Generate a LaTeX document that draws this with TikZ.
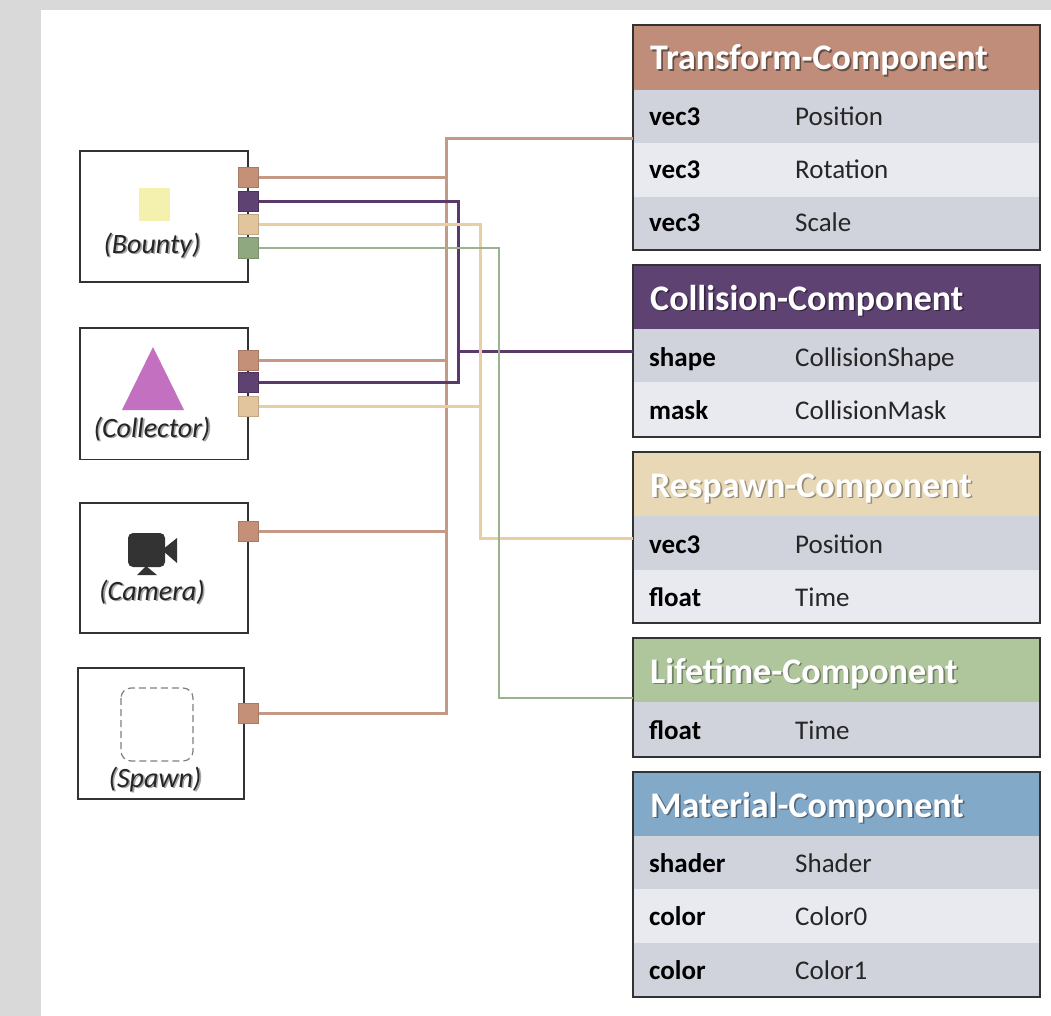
\documentclass[tikz,border=0pt]{standalone}
\usepackage{fontspec}
\setmainfont{Carlito}
\usetikzlibrary{calc}
\definecolor{pageGray}{HTML}{D9D9D9}
\definecolor{cT}{HTML}{BF8D7A}
\definecolor{cC}{HTML}{5E4272}
\definecolor{cR}{HTML}{E8D8B6}
\definecolor{cL}{HTML}{AFC69C}
\definecolor{cM}{HTML}{83A9C8}
\definecolor{rowA}{HTML}{D0D3DC}
\definecolor{rowB}{HTML}{E9EAEF}
\definecolor{lT}{HTML}{C49A87}
\definecolor{lC}{HTML}{5A3A6C}
\definecolor{lR}{HTML}{E8CFA3}
\definecolor{lL}{HTML}{9AB38E}
\definecolor{pT}{HTML}{C49078}
\definecolor{pR}{HTML}{E2C59C}
\definecolor{pL}{HTML}{8FA880}
\definecolor{edgeDark}{HTML}{333333}
\newcommand{\shadowed}[3]{\makebox[0pt][l]{\raisebox{-1.6pt}{\hspace{1.6pt}\textcolor{#1}{#3}}}\textcolor{#2}{#3}}
\newcommand{\rectnode}[6][]{\node[rectbase,#1,minimum width=#5pt-#3pt,minimum height=#6pt-#4pt] (#2) at (#3,#4) {};}
\tikzset{
  rectbase/.style={rectangle,anchor=north west,inner sep=0pt,outer sep=0pt},
  rowa/.style={fill=rowA},
  rowb/.style={fill=rowB},
  tableframe/.style={draw=edgeDark,line width=1.8pt},
  entity/.style={draw=edgeDark,fill=white,line width=1.5pt},
  hdrtext/.style={anchor=base west,inner sep=0pt,font=\fontsize{36}{36}\bfseries\selectfont},
  typetext/.style={anchor=base west,inner sep=0pt,font=\fontsize{27}{27}\bfseries\selectfont,text=black},
  valtext/.style={anchor=base west,inner sep=0pt,font=\fontsize{27}{27}\selectfont,text=black!85},
  entlabel/.style={anchor=base,inner sep=0pt,font=\fontsize{28}{28}\itshape\selectfont},
  port/.style={rectangle,anchor=center,inner sep=0pt,outer sep=0pt,minimum width=20pt,minimum height=20pt,line width=1pt},
  portT/.style={port,fill=pT,draw=pT!85!black},
  portC/.style={port,fill=cC,draw=lC!85!black},
  portR/.style={port,fill=pR,draw=pR!85!black},
  portL/.style={port,fill=pL,draw=pL!85!black},
  wireT/.style={draw=lT,line width=3pt},
  wireC/.style={draw=lC,line width=3pt},
  wireR/.style={draw=lR,line width=3pt},
  wireL/.style={draw=lL,line width=2.6pt},
}
\begin{document}
\begin{tikzpicture}[x=1pt,y=-1pt]
\useasboundingbox (0,0) rectangle (1051,1016);
\fill[pageGray] (0,0) rectangle (1051,1016);
\fill[white] (41,10) rectangle (1051,1016);

% entities
\rectnode[entity]{bounty}{80}{151}{248}{282}
\rectnode[entity]{collector}{80}{328}{248}{459.5}
\rectnode[entity]{camera}{80}{503}{248}{633}
\rectnode[entity]{spawn}{78}{668}{244}{799}

% icons
\rectnode[fill=yellow!30!white!95!black]{bountyicon}{139}{188}{170}{221}
\fill[fill={rgb,255:red,194;green,112;blue,191}] (153,347) -- (184,410) -- (122,410) -- cycle;
\fill[edgeDark,rounded corners=5pt] (128,533) rectangle (165,567);
\fill[edgeDark] (162,550) -- (177,538) -- (177,563) -- cycle;
\fill[edgeDark] (146,566) -- (157,575) -- (137,575) -- cycle;
\draw[gray,dashed,line width=1.2pt,rounded corners=10pt,dash pattern=on 7pt off 4pt] (121,688) rectangle (193,761);

\node[entlabel] (lbounty) at (152,253) {\shadowed{black!35}{black!85}{(Bounty)}};
\node[entlabel] (lcollector) at (152,437) {\shadowed{black!35}{black!85}{(Collector)}};
\node[entlabel] (lcamera) at (152,600) {\shadowed{black!35}{black!85}{(Camera)}};
\node[entlabel] (lspawn) at (155,787) {\shadowed{black!35}{black!85}{(Spawn)}};

% tables
\rectnode[rectbase,fill=cT]{hT}{633}{25}{1040}{90}
\rectnode[rowa]{rT1}{633}{90}{1040}{143}
\rectnode[rowb]{rT2}{633}{143}{1040}{197}
\rectnode[rowa]{rT3}{633}{197}{1040}{250}
\rectnode[tableframe]{tT}{633}{25}{1040}{250}

\rectnode[rectbase,fill=cC]{hC}{633}{265}{1040}{329}
\rectnode[rowa]{rC1}{633}{329}{1040}{382}
\rectnode[rowb]{rC2}{633}{382}{1040}{437}
\rectnode[tableframe]{tC}{633}{265}{1040}{437}

\rectnode[rectbase,fill=cR]{hR}{633}{452}{1040}{516}
\rectnode[rowa]{rR1}{633}{516}{1040}{570}
\rectnode[rowb]{rR2}{633}{570}{1040}{623}
\rectnode[tableframe]{tR}{633}{452}{1040}{623}

\rectnode[rectbase,fill=cL]{hL}{633}{638}{1040}{702}
\rectnode[rowa]{rL1}{633}{702}{1040}{757}
\rectnode[tableframe]{tL}{633}{638}{1040}{757}

\rectnode[rectbase,fill=cM]{hM}{633}{772}{1040}{836}
\rectnode[rowa]{rM1}{633}{836}{1040}{889}
\rectnode[rowb]{rM2}{633}{889}{1040}{943}
\rectnode[rowa]{rM3}{633}{943}{1040}{997}
\rectnode[tableframe]{tM}{633}{772}{1040}{997}

% table texts
\node[hdrtext] (hTt) at (650,70) {\shadowed{cT!55!black}{white}{Transform-Component}};
\node[typetext] (a1) at (649,126) {vec3}; \node[valtext] (b1) at (795,126) {Position};
\node[typetext] (a2) at (649,179) {vec3}; \node[valtext] (b2) at (795,179) {Rotation};
\node[typetext] (a3) at (649,232) {vec3}; \node[valtext] (b3) at (795,232) {Scale};

\node[hdrtext] (hCt) at (650,310) {\shadowed{cC!55!black}{white}{Collision-Component}};
\node[typetext] (a4) at (649,366) {shape}; \node[valtext] (b4) at (795,366) {CollisionShape};
\node[typetext] (a5) at (649,419) {mask}; \node[valtext] (b5) at (795,419) {CollisionMask};

\node[hdrtext] (hRt) at (650,497) {\shadowed{cR!65!black}{white}{Respawn-Component}};
\node[typetext] (a6) at (649,553) {vec3}; \node[valtext] (b6) at (795,553) {Position};
\node[typetext] (a7) at (649,606) {float}; \node[valtext] (b7) at (795,606) {Time};

\node[hdrtext] (hLt) at (650,683) {\shadowed{cL!65!black}{white}{Lifetime-Component}};
\node[typetext] (a8) at (649,739) {float}; \node[valtext] (b8) at (795,739) {Time};

\node[hdrtext] (hMt) at (650,817) {\shadowed{cM!60!black}{white}{Material-Component}};
\node[typetext] (a9) at (649,872) {shader}; \node[valtext] (b9) at (795,872) {Shader};
\node[typetext] (a10) at (649,925) {color}; \node[valtext] (b10) at (795,925) {Color0};
\node[typetext] (a11) at (649,979) {color}; \node[valtext] (b11) at (795,979) {Color1};

% ports
\node[portT] (bT) at (248.5,178) {};
\node[portC] (bC) at (248.5,201.5) {};
\node[portR] (bR) at (248.5,225) {};
\node[portL] (bL) at (248.5,248) {};
\node[portT] (cT) at (248.5,360.5) {};
\node[portC] (cC) at (248.5,382) {};
\node[portR] (cR) at (248.5,406) {};
\node[portT] (kT) at (248.5,531) {};
\node[portT] (sT) at (248.5,713) {};

% junctions and table ends
\coordinate (jT) at (446,139);
\coordinate (jC) at (458,351);
\coordinate (jR) at (480,538.5);
\coordinate (jL) at (499,698);

% connectors
\draw[wireT] (tT.west |- jT) -- (jT) -- (jT |- sT) -- (sT.east);
\draw[wireT] (bT.east) -- (bT.east -| jT);
\draw[wireT] (cT.east) -- (cT.east -| jT);
\draw[wireT] (kT.east) -- (kT.east -| jT);

\draw[wireC] (bC.east) -- (bC.east -| jC) -- (cC.east -| jC) -- (cC.east);
\draw[wireC] (jC) -- (tC.west |- jC);

\draw[wireR] (bR.east) -- (bR.east -| jR) -- (jR) -- (tR.west |- jR);
\draw[wireR] (cR.east) -- (cR.east -| jR);

\draw[wireL] (bL.east) -- (bL.east -| jL) -- (jL) -- (tL.west |- jL);
\end{tikzpicture}
\end{document}
